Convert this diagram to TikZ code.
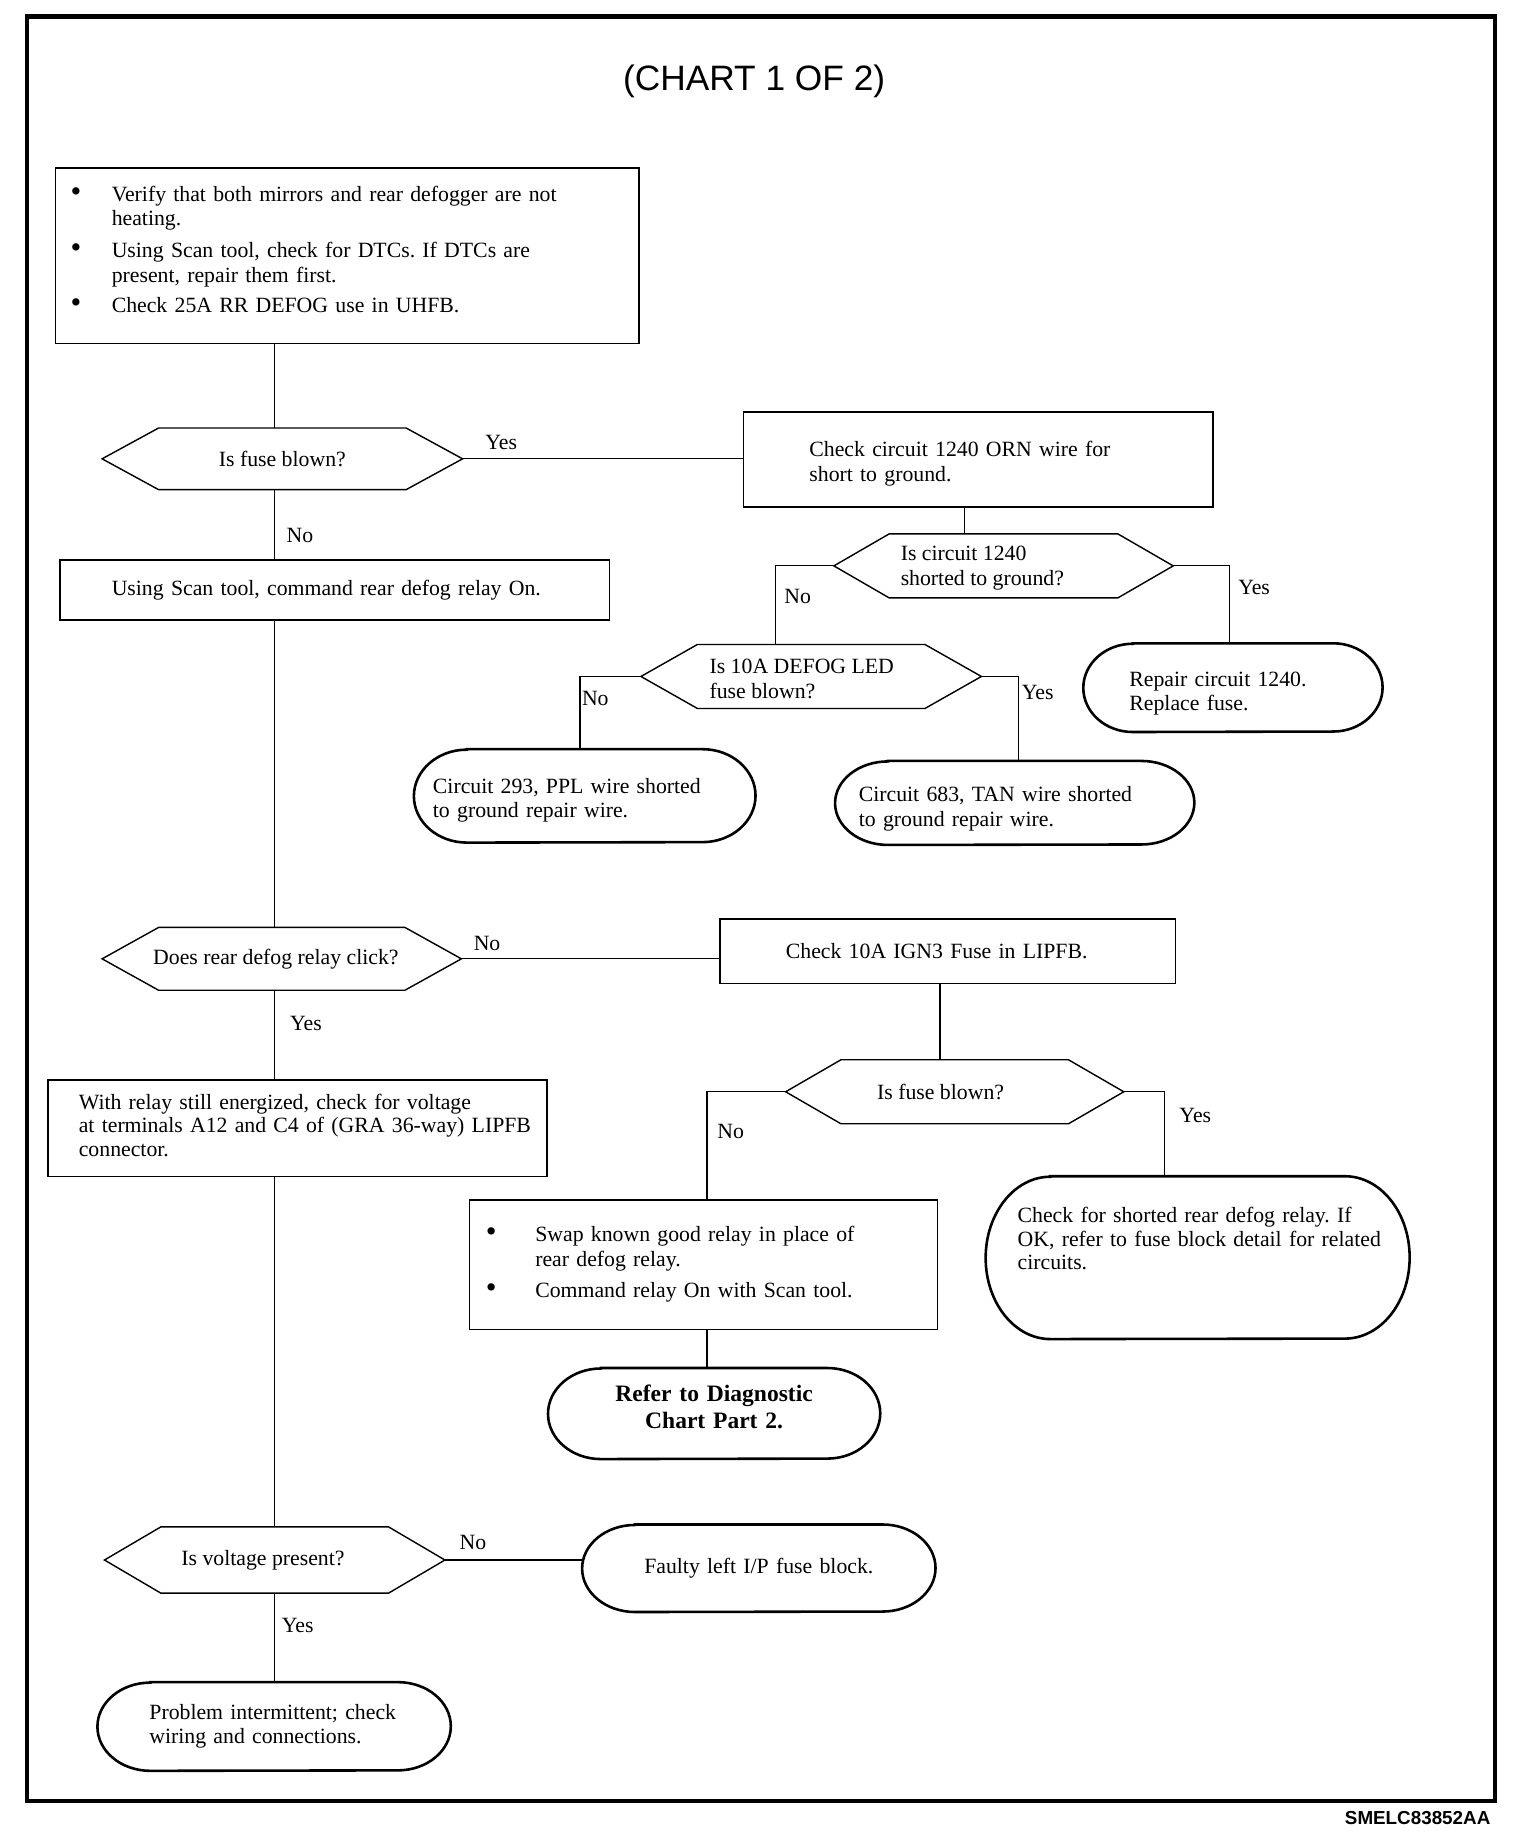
\documentclass[tikz,border=0pt]{standalone}
\usepackage{fontspec}
\setmainfont{Liberation Serif}
\newfontfamily\sansfont{Liberation Sans}
\usetikzlibrary{calc}
\frenchspacing
\newcommand{\bigbul}{{\fontsize{26}{21}\selectfont\textbullet}}
\newcommand{\tstrut}[1]{\rule{0pt}{#1pt}}
\newcommand{\dstrut}[1]{\rule[-#1pt]{0pt}{#1pt}}
\tikzset{
  x=1pt, y=1pt,
  base/.style={font=\fontsize{18.5}{21}\selectfont},
  boxnode/.style={base, draw, line width=1.3pt, align=left, inner ysep=0pt},
  hexnode/.style={base, inner sep=0pt, align=left},
  termnode/.style={base, inner ysep=0pt, align=left},
  hexline/.style={line width=1.2pt, line join=miter},
  termline/.style={line width=2.2pt},
  conn/.style={line width=1pt},
  lbl/.style={base, inner sep=0pt},
}
\newcommand{\hexshape}[2]{%
  \draw[hexline] (#1.west) -- ($(#1.north west)+(#2,0)$) -- ($(#1.north east)-(#2,0)$)
    -- (#1.east) -- ($(#1.south east)-(#2,0)$) -- ($(#1.south west)+(#2,0)$) -- cycle;}
\newcommand{\termshape}[3]{%
  \draw[termline] ($(#1.north west)+(#2,0)$) -- ($(#1.north east)-(#2,0)$)
    arc[start angle=90, end angle=-90, x radius=#2, y radius=#3]
    -- ($(#1.south west)+(#2,0)$)
    arc[start angle=270, end angle=90, x radius=#2, y radius=#3] -- cycle;}
\begin{document}
\begin{tikzpicture}
\useasboundingbox (0,0) rectangle (1292,-1564);
\draw[line width=3.5pt] (23,-14) rectangle (1271,-1531);

\node[font=\sansfont\fontsize{30}{36}\selectfont] (title) at (641,-69) {(CHART 1 OF 2)};
\node[font=\sansfont\bfseries\fontsize{16}{19}\selectfont, anchor=east, inner sep=0pt] (code) at (1267,-1545) {SMELC83852AA};

% spine and junction coordinates
\coordinate (spine) at (233,0);
\coordinate (jA) at (820,0);
\coordinate (jB) at (659,0);
\coordinate (jC) at (1045,0);
\coordinate (jD) at (493,0);
\coordinate (jE) at (866,0);
\coordinate (jF) at (799,0);
\coordinate (jG) at (601,0);
\coordinate (jH) at (990,0);

% boxes
\node[boxnode, minimum width=496pt, minimum height=149pt, inner xsep=13pt, text width=470pt] (b1) at (295,-217.5)
  {\begin{tabular}{@{}p{35pt}@{}l@{}}\bigbul & Verify that both mirrors and rear defogger are not\\ & heating.\\[6pt]
   \bigbul & Using Scan tool, check for DTCs. If DTCs are\\ & present, repair them first.\\[5pt]
   \bigbul & Check 25A RR DEFOG use in UHFB.\dstrut{13}\end{tabular}};
\node[boxnode, minimum width=399pt, minimum height=81pt, inner xsep=56pt, text width=287pt] (b2) at (831.5,-390.5)
  {\begin{tabular}{@{}l@{}}\tstrut{22.7}Check circuit 1240 ORN wire for\\ short to ground.\end{tabular}};
\node[boxnode, minimum width=467pt, minimum height=51pt, inner xsep=44pt, text width=379pt] (b3) at (284.5,-501.5)
  {Using Scan tool, command rear defog relay On.};
\node[boxnode, minimum width=387pt, minimum height=55pt, inner xsep=56pt, text width=275pt] (b4) at (805.5,-808.5)
  {Check 10A IGN3 Fuse in LIPFB.};
\node[boxnode, minimum width=398pt, minimum height=110pt, inner xsep=14pt, text width=370pt] (b5) at (598,-1075)
  {\begin{tabular}{@{}p{42pt}@{}l@{}}\bigbul & Swap known good relay in place of\\ & rear defog relay.\\[6pt]
   \bigbul & Command relay On with Scan tool.\end{tabular}};
\node[boxnode, minimum width=424pt, minimum height=82pt, inner xsep=26pt, text width=372pt, font=\fontsize{18.5}{20}\selectfont] (b6) at (253,-959)
  {\begin{tabular}{@{}l@{}}With relay still energized, check for voltage\\ at terminals A12 and C4 of (GRA 36-way) LIPFB\\ connector.\end{tabular}};

% decisions
\node[hexnode, minimum width=306pt, minimum height=52pt] (d1) at (240,-390) {Is fuse blown?};
\hexshape{d1}{48}
\node[hexnode, minimum width=288pt, minimum height=54pt] (d2) at (853,-481)
  {\begin{tabular}{@{}l@{}}\tstrut{18.7}Is circuit 1240\\ shorted to ground?\end{tabular}\hspace*{36pt}};
\hexshape{d2}{47}
\node[hexnode, minimum width=289pt, minimum height=54pt] (d3) at (689.5,-575)
  {\begin{tabular}{@{}l@{}}\tstrut{22.7}Is 10A DEFOG LED\\ fuse blown?\end{tabular}\hspace*{16pt}};
\hexshape{d3}{48}
\node[hexnode, minimum width=305pt, minimum height=53pt] (d4) at (239.5,-815) {Does rear defog relay click?\hspace*{10pt}};
\hexshape{d4}{48}
\node[hexnode, minimum width=287pt, minimum height=54pt] (d5) at (811.5,-928) {Is fuse blown?\hspace*{24pt}};
\hexshape{d5}{47}
\node[hexnode, minimum width=289pt, minimum height=56pt] (d6) at (233.5,-1326) {Is voltage present?\hspace*{20pt}};
\hexshape{d6}{48}

% terminals
\node[termnode, minimum width=254pt, minimum height=75pt, inner xsep=39pt, text width=176pt] (t1) at (1048,-584.5)
  {\begin{tabular}{@{}l@{}}\tstrut{24.7}Repair circuit 1240.\\ Replace fuse.\end{tabular}};
\termshape{t1}{42}{37.5}
\node[termnode, minimum width=290pt, minimum height=79pt, inner xsep=16pt, text width=258pt] (t2) at (497,-676.5)
  {\begin{tabular}{@{}l@{}}\tstrut{22.7}Circuit 293, PPL wire shorted\\ to ground repair wire.\end{tabular}};
\termshape{t2}{45}{39.5}
\node[termnode, minimum width=305pt, minimum height=71pt, inner xsep=20pt, text width=265pt] (t3) at (862.5,-682.5)
  {\begin{tabular}{@{}l@{}}\tstrut{24.7}Circuit 683, TAN wire shorted\\ to ground repair wire.\end{tabular}};
\termshape{t3}{45}{35.5}
\node[termnode, minimum width=360pt, minimum height=138pt, inner xsep=27pt, text width=306pt, font=\fontsize{18.5}{20.3}\selectfont] (t4) at (1018,-1069)
  {\begin{tabular}{@{}l@{}}Check for shorted rear defog relay. If\\ OK, refer to fuse block detail for related\\ circuits.\dstrut{34}\end{tabular}};
\termshape{t4}{55}{69}
\node[termnode, minimum width=282pt, minimum height=77pt, inner xsep=20pt, text width=242pt, align=center, font=\bfseries\fontsize{20}{23}\selectfont] (t5) at (607,-1201.5)
  {\begin{tabular}{@{}c@{}}Refer to Diagnostic\\ Chart Part 2.\dstrut{13}\end{tabular}\hspace*{14pt}};
\termshape{t5}{45}{38.5}
\node[termnode, minimum width=300pt, minimum height=74pt, inner xsep=20pt, text width=260pt, align=center] (t6) at (645,-1333)
  {Faulty left I/P fuse block.\hspace*{14pt}};
\termshape{t6}{45}{37}
\node[termnode, minimum width=300pt, minimum height=75pt, inner xsep=44pt, text width=212pt] (t7) at (233,-1467.5)
  {\begin{tabular}{@{}l@{}}Problem intermittent; check\\ wiring and connections.\end{tabular}};
\termshape{t7}{45}{37.5}

% connectors
\draw[conn] (spine |- b1.south) -- (spine |- d1.north);
\draw[conn] (d1.east) -- (d1.east -| b2.west);
\draw[conn] (spine |- d1.south) -- (spine |- b3.north);
\draw[conn] (spine |- b3.south) -- (spine |- d4.north);
\draw[conn] (jA |- b2.south) -- (jA |- d2.north);
\draw[conn] (d2.west) -| (jB |- d3.north);
\draw[conn] (d2.east) -| (jC |- t1.north);
\draw[conn] (d3.west) -| (jD |- t2.north);
\draw[conn] (d3.east) -| (jE |- t3.north);
\draw[conn] (d4.east) -- (d4.east -| b4.west);
\draw[conn] (jF |- b4.south) -- (jF |- d5.north);
\draw[conn] (d5.west) -| (jG |- b5.north);
\draw[conn] (d5.east) -| (jH |- t4.north);
\draw[conn] (jG |- b5.south) -- (jG |- t5.north);
\draw[conn] (spine |- d4.south) -- (spine |- b6.north);
\draw[conn] (spine |- b6.south) -- (spine |- d6.north);
\draw[conn] (d6.east) -- (d6.east -| t6.west);
\draw[conn] (spine |- d6.south) -- (spine |- t7.north);

% labels
\node[lbl] (l1) at (426,-376) {Yes};
\node[lbl] (l2) at (255,-455) {No};
\node[lbl] (l3) at (678,-507) {No};
\node[lbl] (l4) at (1066,-499) {Yes};
\node[lbl] (l5) at (506,-594) {No};
\node[lbl] (l6) at (882,-589) {Yes};
\node[lbl] (l7) at (414,-802) {No};
\node[lbl] (l8) at (260,-870) {Yes};
\node[lbl] (l9) at (621,-962) {No};
\node[lbl] (l10) at (1016,-948) {Yes};
\node[lbl] (l11) at (402,-1311) {No};
\node[lbl] (l12) at (253,-1382) {Yes};
\end{tikzpicture}
\end{document}
